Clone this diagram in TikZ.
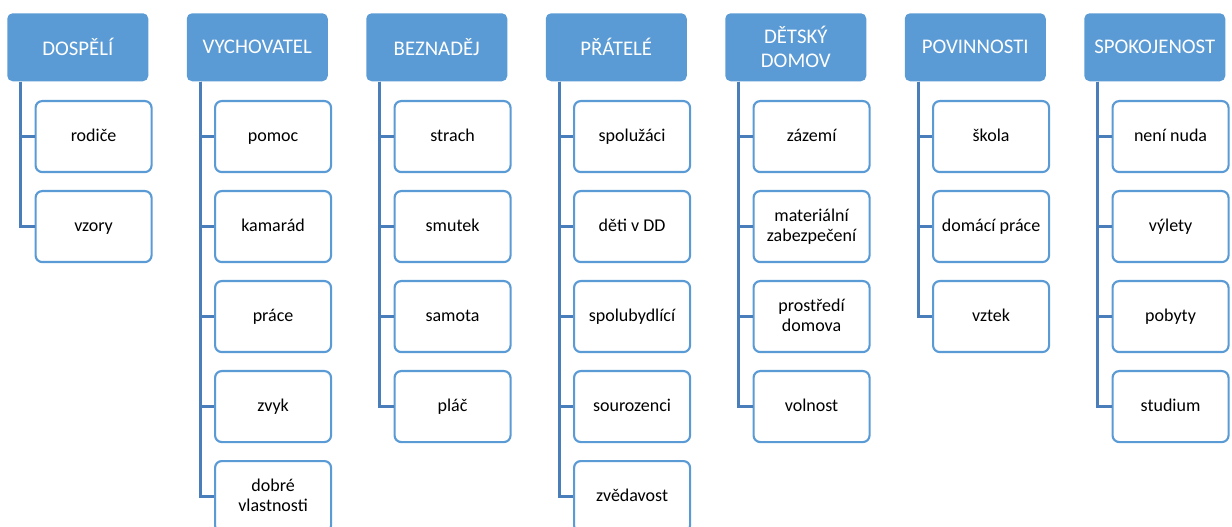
\documentclass[tikz,border=0pt]{standalone}
\usepackage{fontspec}
\setmainfont{Carlito}
\definecolor{hdrblue}{HTML}{5B9BD5}
\definecolor{linkblue}{HTML}{4A7EBB}
% invisible rule that fixes the height of the first line of a label
\newcommand\labelstrut{\rule[-2.3pt]{0pt}{12pt}}
\begin{document}
\begin{tikzpicture}[x=0.75pt,y=-0.75pt,
  header/.style={rectangle, rounded corners=4pt, fill=hdrblue, text=white,
    minimum width=105.75pt, minimum height=51pt, inner sep=0pt, align=center,
    font=\fontsize{15.6}{18}\selectfont, anchor=north west},
  item/.style={rectangle, rounded corners=5pt, draw=hdrblue, line width=1.6pt,
    fill=white, minimum width=87pt, minimum height=53.25pt, inner sep=0pt,
    align=center, font=\fontsize{13.5}{15.3}\selectfont, anchor=north west,
    execute at begin node=\labelstrut},
  link/.style={draw=linkblue, line width=1.9pt}]
\useasboundingbox (0,0) rectangle (1232,527);
\clip (0,0) rectangle (1232,527);
\foreach \i/\h/\items in {
  1/DOSPĚLÍ/{rodiče,vzory},
  2/VYCHOVATEL/{pomoc,kamarád,práce,zvyk,{dobré\\vlastnosti}},
  3/BEZNADĚJ/{strach,smutek,samota,pláč},
  4/PŘÁTELÉ/{spolužáci,děti v DD,spolubydlící,sourozenci,zvědavost},
  5/{DĚTSKÝ\\DOMOV}/{zázemí,{materiální\\zabezpečení},{prostředí\\domova},volnost},
  6/POVINNOSTI/{škola,domácí práce,vztek},
  7/SPOKOJENOST/{není nuda,výlety,pobyty,studium}}{
  \pgfmathsetmacro\cx{7+(\i-1)*179.5}
  \node[header] (h\i) at (\cx,13) {\h};
  \foreach \t [count=\j] in \items {
    \pgfmathsetmacro\cy{100+(\j-1)*90}
    \node[item] (c\i-\j) at (\cx+27.5,\cy) {\t};
    \draw[link] ([xshift=10.3pt]h\i.south west) |- (c\i-\j.west);
  }
}
\end{tikzpicture}
\end{document}
